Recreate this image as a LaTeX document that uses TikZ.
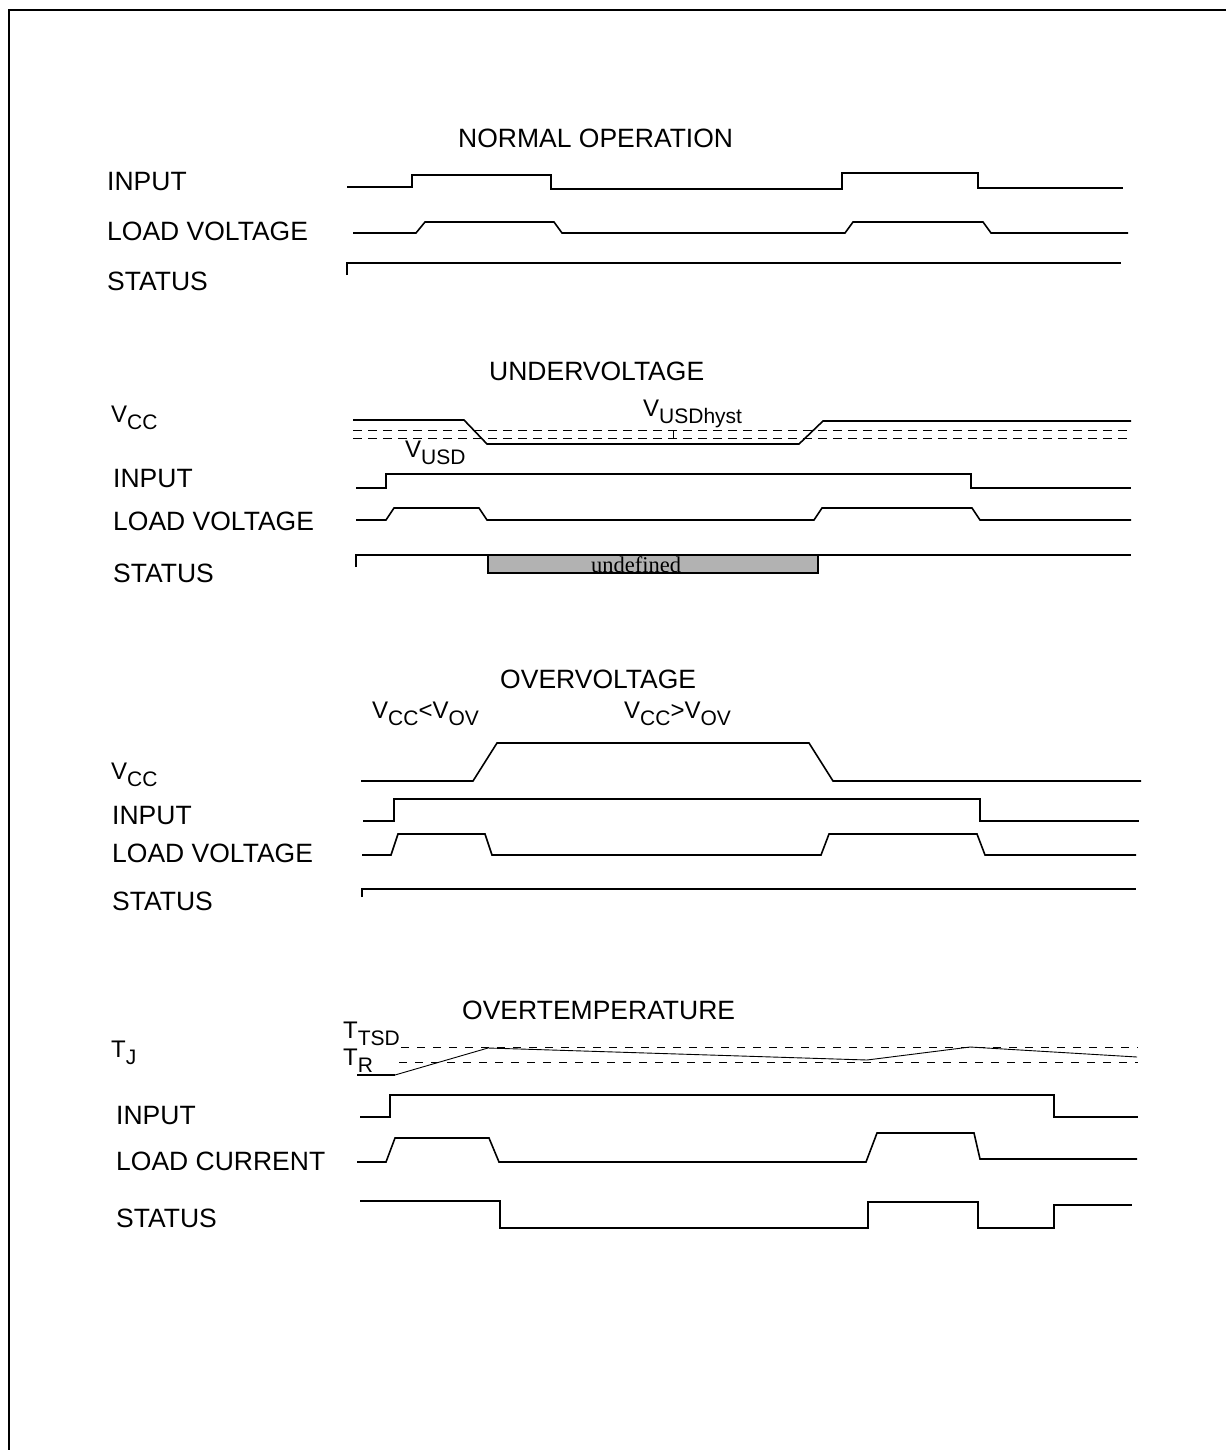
\documentclass[tikz,border=0pt]{standalone}
\usepackage{fontspec}
\setmainfont{Liberation Sans}
\newfontfamily\undeffont{Liberation Serif}
\usepackage{tikz}
\newcommand{\sbs}[1]{\raisebox{-7pt}{\fontsize{21}{21}\selectfont #1}}
\tikzset{
	wave/.style={line width=1.6pt, line join=miter},
	thin wave/.style={line width=0.9pt},
	thr/.style={line width=0.8pt, dash pattern=on 9pt off 6pt},
	lbl/.style={anchor=base west, inner sep=0pt, font=\fontsize{26.5}{26.5}\selectfont},
	sym/.style={anchor=base west, inner sep=0pt, font=\fontsize{24}{24}\selectfont}
}

\begin{document}
\begin{tikzpicture}[x=1pt, y=-1pt]
		%%%%% START %%%%%
		\useasboundingbox (0,0) rectangle (1226,1450);
		\draw[line width=2.2pt] (9,1450) -- (9,10) -- (1226,10);
		
		% normal operation
		\node[lbl] (nTitle) at (458,148) {NORMAL OPERATION};
		\node[lbl] (nIn) at (107,191) {INPUT};
		\node[lbl] (nLoad) at (107,240) {LOAD VOLTAGE};
		\node[lbl] (nStat) at (107,290) {STATUS};
		
		\draw[wave] (347,187) -- (412,187) -- (412,175) -- (551,175) -- (551,189) -- (842,189) -- (842,173) -- (978,173) -- (978,188) -- (1123,188);
		\draw[wave] (353,233) -- (416,233) -- (425,222) -- (554,222) -- (562,233) -- (845,233) -- (853,222) -- (983,222) -- (991,233) -- (1128,233);
		\draw[wave] (347,275) -- (347,263) -- (1121,263);
		
		% undervoltage
		\node[lbl] (uTitle) at (489,380) {UNDERVOLTAGE};
		\node[sym] (uVcc) at (111,422) {V\sbs{CC}};
		\node[lbl] (uIn) at (113,487) {INPUT};
		\node[lbl] (uLoad) at (113,530) {LOAD VOLTAGE};
		\node[lbl] (uStat) at (113,582) {STATUS};
		\node[sym] (uHyst) at (643,416) {V\sbs{USDhyst}};
		\node[sym] (uUsd) at (405,457) {V\sbs{USD}};
		
		\draw[thr] (353,430) -- (1131,430);
		\draw[thr] (353,438) -- (1131,438);
		\draw[line width=0.8pt] (669,430) -- (673,430) -- (673,438);
		\draw[wave] (353,420) -- (464,420) -- (487,444) -- (799,444) -- (823,421) -- (1131,421);
		\draw[wave] (356,488) -- (386,488) -- (386,474) -- (971,474) -- (971,488) -- (1131,488);
		\draw[wave] (356,520) -- (386,520) -- (394,508) -- (479,508) -- (487,520) -- (814,520) -- (822,508) -- (972,508) -- (980,520) -- (1131,520);
		\draw[wave] (356,567) -- (356,555) -- (1131,555);
		\draw[line width=2pt, fill=black!30] (488,555) rectangle (818,573);
		\node[anchor=base west, inner sep=0pt, font=\undeffont\fontsize{22.5}{22.5}\selectfont] (uUndef) at (591,572) {undefined};
		
		% overvoltage
		\node[lbl] (oTitle) at (500,688) {OVERVOLTAGE};
		\node[sym] (oLow) at (372,718) {V\sbs{CC}<V\sbs{OV}};
		\node[sym] (oHigh) at (624,718) {V\sbs{CC}>V\sbs{OV}};
		\node[sym] (oVcc) at (111,779) {V\sbs{CC}};
		\node[lbl] (oIn) at (112,824) {INPUT};
		\node[lbl] (oLoad) at (112,862) {LOAD VOLTAGE};
		\node[lbl] (oStat) at (112,910) {STATUS};
		
		\draw[wave] (361,781) -- (473,781) -- (497,743) -- (809,743) -- (833,781) -- (1141,781);
		\draw[wave] (363,821) -- (394,821) -- (394,799) -- (980,799) -- (980,821) -- (1139,821);
		\draw[wave] (362,855) -- (391,855) -- (398,834) -- (485,834) -- (492,855) -- (821,855) -- (829,834) -- (977,834) -- (985,855) -- (1136,855);
		\draw[wave] (362,897) -- (362,889) -- (1136,889);
		
		% overtemperature
		\node[lbl] (tTitle) at (462,1019) {OVERTEMPERATURE};
		\node[sym] (tTj) at (111,1057) {T\sbs{J}};
		\node[sym] (tTsd) at (343,1038) {T\sbs{TSD}};
		\node[sym] (tTr) at (343,1065) {T\sbs{R}};
		
		\draw[thr, dash pattern=on 8pt off 8pt] (401,1047) -- (1138,1047);
		\draw[thr, dash pattern=on 8pt off 8pt] (399,1062) -- (1138,1062);
		\draw[wave] (357,1075) -- (395,1075);
		\draw[thin wave] (395,1075) -- (488,1048) -- (867,1060) -- (970,1047) -- (1137,1057);
		\node[lbl] (tIn) at (116,1124) {INPUT};
		\node[lbl] (tLoad) at (116,1170) {LOAD CURRENT};
		\node[lbl] (tStat) at (116,1227) {STATUS};
		
		\draw[wave] (360,1117) -- (390,1117) -- (390,1095) -- (1054,1095) -- (1054,1117) -- (1138,1117);
		\draw[wave] (357,1162) -- (386,1162) -- (395,1138) -- (489,1138) -- (499,1162) -- (866,1162) -- (877,1133) -- (974,1133) -- (980,1159) -- (1137,1159);
		\draw[wave] (360,1201) -- (500,1201) -- (500,1228) -- (868,1228) -- (868,1202) -- (978,1202) -- (978,1228) -- (1054,1228) -- (1054,1205) -- (1132,1205);
		%%%%% END %%%%%
\end{tikzpicture}
\end{document}
